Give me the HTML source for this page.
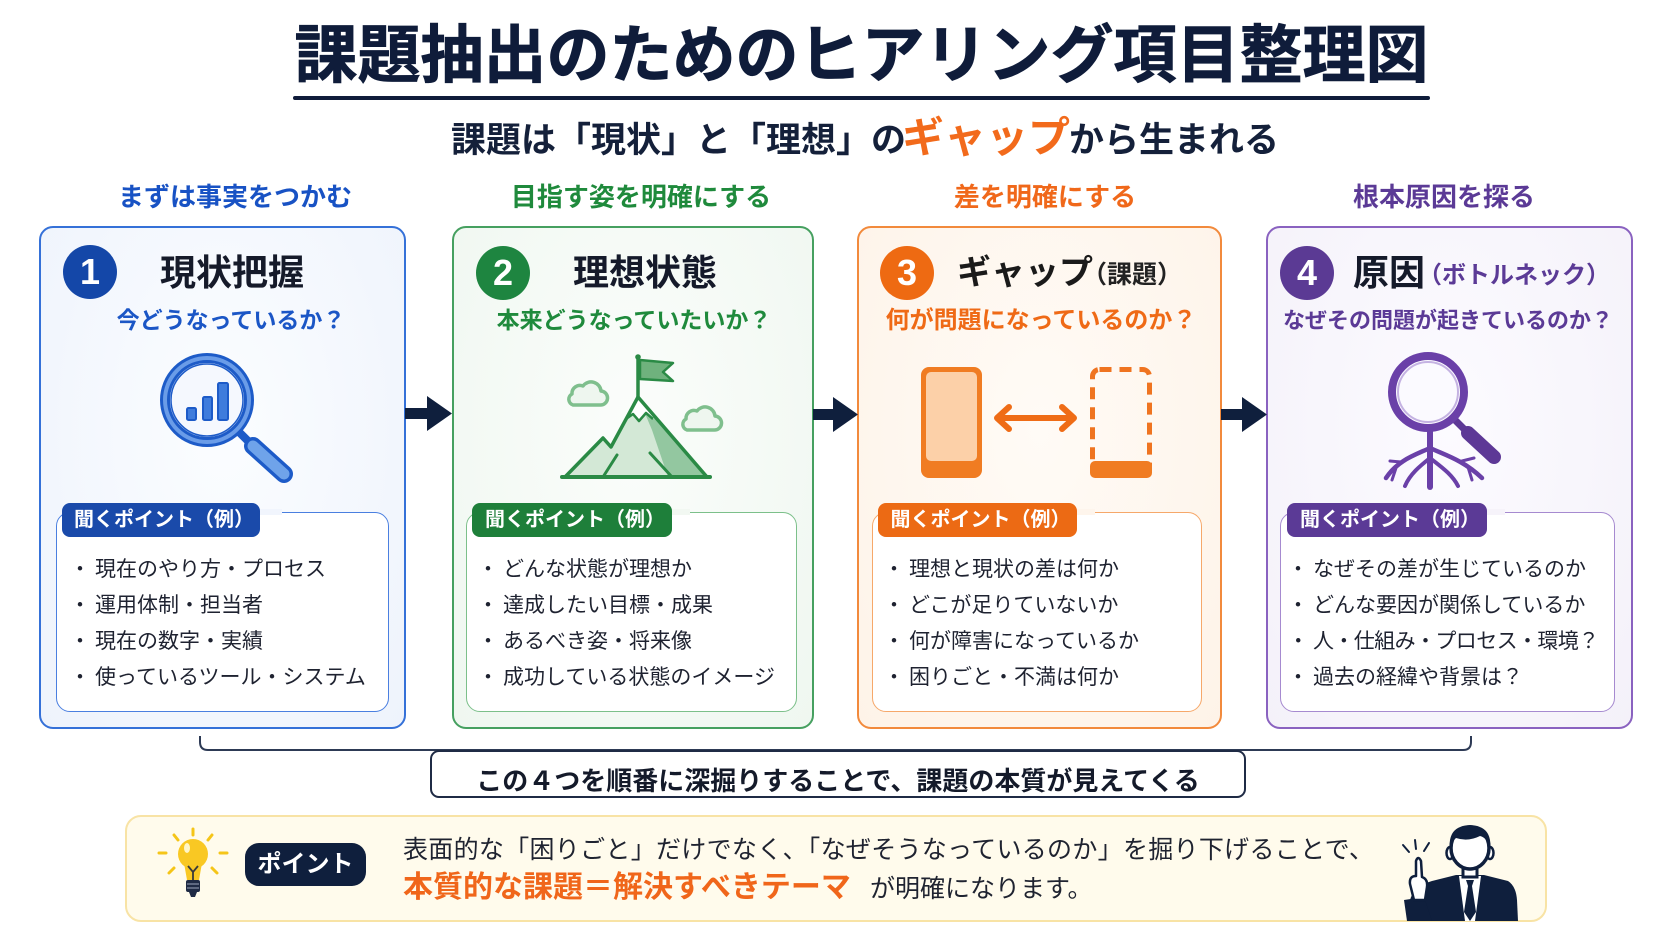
<!DOCTYPE html>
<html><head><meta charset="utf-8">
<style>
*{margin:0;padding:0}
body{width:1672px;height:941px;position:relative;overflow:hidden;background:#fff;font-family:"Liberation Sans","Noto Sans CJK JP",sans-serif}
.a{position:absolute}
.t{position:absolute;white-space:nowrap;line-height:1;font-family:"Liberation Sans","Noto Sans CJK JP",sans-serif}
.card{position:absolute;top:226px;height:503px;border:2px solid;border-radius:14px;box-sizing:border-box}
.box{position:absolute;top:512px;height:200px;background:#fff;border:1.5px solid;border-radius:14px;box-sizing:border-box}
.tab{position:absolute;top:503px;height:34px;border-radius:8px;color:#fff;font-weight:700;font-size:20px;line-height:34px;text-align:center;white-space:nowrap;padding-left:6px;box-sizing:border-box}
.gap{position:absolute;top:509px;height:6px}
.b{display:inline-block;width:30px;text-align:center}
.li{font-size:21px;color:#1e2230}
.h{font-size:26px;font-weight:700;text-align:center;width:400px}
.ct{font-weight:700;color:#151a2a}
.cs{font-weight:700;text-align:center;width:400px}
.num{position:absolute;width:54px;height:54px;border-radius:50%;color:#fff;font-weight:700;font-size:36px;line-height:54px;text-align:center;font-family:"Liberation Sans",sans-serif}
</style></head><body>

<!-- cards -->
<div class="card" style="left:39px;width:367px;border-color:#3571d8;background:radial-gradient(ellipse at 50% 40%,#fbfdff 0%,#eef3fc 100%)"></div>
<div class="card" style="left:452px;width:362px;border-color:#46a060;background:radial-gradient(ellipse at 50% 40%,#fbfdfb 0%,#eff7f0 100%)"></div>
<div class="card" style="left:857px;width:365px;border-color:#f28a3c;background:radial-gradient(ellipse at 50% 40%,#fffbf6 0%,#fef3e8 100%)"></div>
<div class="card" style="left:1266px;width:367px;border-color:#8a62c0;background:radial-gradient(ellipse at 50% 40%,#fcfbff 0%,#f4f1f9 100%)"></div>

<!-- point boxes -->
<div class="box" style="left:56px;width:333px;border-color:#4a7fe0"></div>
<div class="box" style="left:466px;width:331px;border-color:#7cc08a"></div>
<div class="box" style="left:872px;width:330px;border-color:#f6a86a"></div>
<div class="box" style="left:1280px;width:335px;border-color:#a68ad0"></div>
<div class="gap" style="left:260px;width:22px;background:#f1f5fd"></div>
<div class="gap" style="left:672px;width:18px;background:#f2f8f2"></div>
<div class="gap" style="left:1077px;width:18px;background:#fef5ec"></div>
<div class="gap" style="left:1487px;width:18px;background:#f6f3fa"></div>
<div class="tab" style="left:62px;width:198px;background:#1a4aaa">聞くポイント（例）</div>
<div class="tab" style="left:472px;width:200px;background:#1e7f3a">聞くポイント（例）</div>
<div class="tab" style="left:878px;width:199px;background:#ec6a14">聞くポイント（例）</div>
<div class="tab" style="left:1287px;width:200px;background:#5b3a96">聞くポイント（例）</div>

<!-- bottom yellow box -->
<div class="a" style="left:125px;top:815px;width:1422px;height:107px;box-sizing:border-box;border:2px solid #f8e3a5;border-radius:16px;background:#fffbec"></div>

<svg class="a" style="left:0;top:0" width="1672" height="941" viewBox="0 0 1672 941">
<!-- arrows -->
<g fill="#0f1f3d">
 <rect x="405" y="408" width="24" height="11"/>
 <polygon points="427,396 452,413.5 427,431"/>
 <rect x="813" y="409" width="22" height="11"/>
 <polygon points="833,397 858,414.5 833,432"/>
 <rect x="1221" y="409" width="23" height="11"/>
 <polygon points="1242,397 1267,414.5 1242,432"/>
</g>

<!-- magnifier 1 -->
<g>
 <line x1="238" y1="431" x2="251" y2="444" stroke="#1d5bc8" stroke-width="8"/>
 <line x1="253" y1="446" x2="284" y2="474" stroke="#1d5bc8" stroke-width="18" stroke-linecap="round"/>
 <line x1="253" y1="446" x2="284" y2="474" stroke="#6fa3ea" stroke-width="11" stroke-linecap="round"/>
 <circle cx="207" cy="400" r="42" fill="#f5f8fe" stroke="#1d5bc8" stroke-width="10"/>
 <circle cx="207" cy="400" r="42" fill="none" stroke="#6a9ce8" stroke-width="4"/>
 <circle cx="207" cy="400" r="36" fill="none" stroke="#1d5bc8" stroke-width="1.5"/>
 <rect x="187" y="408" width="9" height="12" rx="1.5" fill="#3f7cdc" stroke="#1d5bc8" stroke-width="2"/>
 <rect x="203" y="397" width="9" height="23" rx="1.5" fill="#3f7cdc" stroke="#1d5bc8" stroke-width="2"/>
 <rect x="218" y="383" width="10" height="37" rx="1.5" fill="#3f7cdc" stroke="#1d5bc8" stroke-width="2"/>
</g>

<!-- mountain -->
<g>
 <path d="M573,405 L600,405 A7,7 0 0 0 601,391 A10,10 0 0 0 583,386 A8,8 0 0 0 572,394 A6,6 0 0 0 573,405 Z" fill="#eef6ef" stroke="#7fbf8d" stroke-width="3.5" stroke-linejoin="round"/>
 <path d="M573,405 L600,405 A7,7 0 0 0 601,391 A10,10 0 0 0 583,386 A8,8 0 0 0 572,394 A6,6 0 0 0 573,405 Z" transform="translate(114,25)" fill="#eef6ef" stroke="#7fbf8d" stroke-width="3.5" stroke-linejoin="round"/>
 <path d="M565,477 L603,438 L611,447 L638,397 L707,477 Z" fill="#d3e8d6"/>
 <path d="M638,397 L707,477 L668,477 L652,430 Z" fill="#93c7a0"/>
 <polygon points="638,397 626,419 633,414 639,421 646,413 653,419 656,418" fill="#fff"/>
 <polyline points="626,419 633,414 639,421 646,413 653,419" fill="none" stroke="#2a8a45" stroke-width="2.5" stroke-linejoin="round"/>
 <path d="M565,477 L603,438 L611,447 L638,397 L707,477 Z" fill="none" stroke="#2a8a45" stroke-width="3.5" stroke-linejoin="round"/>
 <line x1="603" y1="477" x2="617" y2="455" stroke="#2a8a45" stroke-width="3" stroke-linecap="round"/>
 <line x1="650" y1="453" x2="672" y2="477" stroke="#2a8a45" stroke-width="3" stroke-linecap="round"/>
 <line x1="562" y1="477" x2="710" y2="477" stroke="#2a8a45" stroke-width="4" stroke-linecap="round"/>
 <line x1="638" y1="399" x2="638" y2="358" stroke="#2a8a45" stroke-width="3.5"/>
 <circle cx="638" cy="357" r="2.8" fill="#2a8a45"/>
 <polygon points="640,360 673,363 663,372 673,381 640,379" fill="#6fb27d" stroke="#2a8a45" stroke-width="2.5" stroke-linejoin="round"/>
</g>

<!-- gap icon -->
<g>
 <rect x="921" y="367" width="61" height="111" rx="8" fill="#f07c22"/>
 <rect x="926" y="372" width="51" height="89" rx="5" fill="#fcd0a8"/>
 <line x1="1000" y1="418" x2="1071" y2="418" stroke="#ef6c16" stroke-width="6" stroke-linecap="round"/>
 <polyline points="1009,407 997,418 1009,429" fill="none" stroke="#ef6c16" stroke-width="6" stroke-linecap="round" stroke-linejoin="round"/>
 <polyline points="1062,407 1074,418 1062,429" fill="none" stroke="#ef6c16" stroke-width="6" stroke-linecap="round" stroke-linejoin="round"/>
 <rect x="1092.5" y="369.5" width="57" height="106" rx="7" fill="none" stroke="#ef7420" stroke-width="5" stroke-dasharray="12 8"/>
 <rect x="1090" y="461" width="62" height="17" rx="5" fill="#f07c22"/>
</g>

<!-- root cause icon -->
<g stroke="#6a40a8" fill="none" stroke-linecap="round">
 <path d="M1430,430 V487" stroke-width="6"/>
 <path d="M1430,448 C1415,455 1398,460 1386,478" stroke-width="4.5"/>
 <path d="M1430,448 C1445,455 1463,460 1482,478" stroke-width="4.5"/>
 <path d="M1430,458 C1420,466 1410,474 1405,486" stroke-width="4"/>
 <path d="M1430,458 C1440,466 1452,474 1458,486" stroke-width="4"/>
 <path d="M1401,462 L1390,461" stroke-width="3"/>
 <path d="M1462,461 L1474,458" stroke-width="3"/>
 <path d="M1396,468 L1392,480" stroke-width="3"/>
 <path d="M1468,467 L1472,480" stroke-width="3"/>
</g>
<line x1="1453" y1="418" x2="1466" y2="431" stroke="#5d3896" stroke-width="7"/>
<line x1="1468" y1="433" x2="1494" y2="457" stroke="#5d3896" stroke-width="14" stroke-linecap="round"/>
<circle cx="1428" cy="392" r="36" fill="#fbfaff" stroke="#6a40a8" stroke-width="8"/>
<circle cx="1428" cy="392" r="30" fill="none" stroke="#c4b2e2" stroke-width="2"/>

<!-- bracket + summary box -->
<path d="M200,736 V742 Q200,750 208,750 H1463 Q1471,750 1471,742 V736" fill="none" stroke="#2d3a55" stroke-width="2"/>
<rect x="431" y="751" width="814" height="46" rx="8" fill="#fff" stroke="#1f2b45" stroke-width="2"/>

<!-- bulb -->
<g stroke="#f5c518" stroke-width="3" stroke-linecap="round">
 <line x1="193" y1="829" x2="193" y2="835"/>
 <line x1="174" y1="835" x2="178" y2="840"/>
 <line x1="212" y1="835" x2="208" y2="840"/>
 <line x1="159" y1="853" x2="166" y2="853"/>
 <line x1="220" y1="853" x2="227" y2="853"/>
 <line x1="169" y1="873" x2="174" y2="868"/>
 <line x1="217" y1="873" x2="212" y2="868"/>
</g>
<circle cx="193" cy="854" r="15" fill="#f9c823"/>
<path d="M184,863 L202,863 L199,880 L187,880 Z" fill="#f9c823"/>
<ellipse cx="187" cy="848" rx="3" ry="5" fill="#fff6c8"/>
<path d="M188,866 L193,872 L198,866 M193,872 V880" fill="none" stroke="#3a3a3a" stroke-width="1.8"/>
<rect x="186" y="880" width="14" height="12" rx="2" fill="#1f2a44"/>
<line x1="187" y1="884" x2="199" y2="884" stroke="#8a93a8" stroke-width="1.2"/>
<line x1="187" y1="888" x2="199" y2="888" stroke="#8a93a8" stroke-width="1.2"/>
<path d="M189,892 L197,892 L195,897 L191,897 Z" fill="#1f2a44"/>
<rect x="245" y="843" width="121" height="43" rx="14" fill="#0f1f3d"/>

<!-- businessman -->
<g>
 <path d="M1408,921 L1410,900 Q1414,886 1432,881 L1456,875 L1484,875 L1508,881 Q1516,886 1517,900 L1518,921 Z" fill="#0f1f3d"/>
 <polygon points="1459,876 1481,876 1475,921 1465,921" fill="#fff"/>
 <polygon points="1466,880 1474,880 1472,886 1476,912 1470,921 1464,912 1468,886" fill="#0f1f3d"/>
 <rect x="1463" y="862" width="14" height="15" fill="#fff" stroke="#0f1f3d" stroke-width="3"/>
 <ellipse cx="1450" cy="853" rx="3.5" ry="6" fill="#fff" stroke="#0f1f3d" stroke-width="2.5"/>
 <ellipse cx="1490" cy="853" rx="3.5" ry="6" fill="#fff" stroke="#0f1f3d" stroke-width="2.5"/>
 <ellipse cx="1470" cy="848" rx="19" ry="21" fill="#fff" stroke="#0f1f3d" stroke-width="3.5"/>
 <path d="M1450,850 Q1447,826 1470,825 Q1493,826 1490,850 Q1488,838 1480,836 Q1468,842 1456,838 Q1451,842 1450,850 Z" fill="#0f1f3d"/>
 <path d="M1407,921 L1404,900 L1424,897 L1432,921 Z" fill="#0f1f3d"/>
 <path d="M1414,900 L1410,884 Q1409,876 1416,876 L1416,861 Q1418,855 1421,861 L1422,877 Q1428,879 1427,887 L1425,900 Z" fill="#fff" stroke="#0f1f3d" stroke-width="2.5" stroke-linejoin="round"/>
 <g stroke="#0f1f3d" stroke-width="2" stroke-linecap="round">
  <line x1="1403" y1="845" x2="1409" y2="852"/>
  <line x1="1415" y1="840" x2="1416" y2="849"/>
  <line x1="1429" y1="843" x2="1424" y2="851"/>
 </g>
</g>
</svg>

<!-- title -->
<div class="t" style="left:293px;width:1137px;top:25px;font-size:63px;font-weight:700;color:#0f1c3a;text-align:center;-webkit-text-stroke:0.8px #0f1c3a">課題抽出のためのヒアリング項目整理図</div>
<div class="a" style="left:293px;top:96px;width:1137px;height:4px;background:#0f1c3a;border-radius:2px"></div>

<!-- subtitle -->
<div class="t" style="left:451px;top:123px;font-size:35px;font-weight:700;color:#14203a">課題は「現状」と「理想」の</div>
<div class="t" style="left:902px;top:117px;font-size:42px;font-weight:700;color:#f26a1b">ギャップ</div>
<div class="t" style="left:1069px;top:123px;font-size:35px;font-weight:700;color:#14203a">から生まれる</div>

<!-- step headings -->
<div class="t h" style="left:35px;top:184px;color:#1852c4">まずは事実をつかむ</div>
<div class="t h" style="left:441px;top:184px;color:#1f8a3c">目指す姿を明確にする</div>
<div class="t h" style="left:845px;top:184px;color:#f0681a">差を明確にする</div>
<div class="t h" style="left:1244px;top:184px;color:#5b3a96">根本原因を探る</div>

<!-- number circles -->
<div class="num" style="left:63px;top:245px;background:#1447a8">1</div>
<div class="num" style="left:476px;top:246px;background:#1e8540">2</div>
<div class="num" style="left:880px;top:246px;background:#ee6a12">3</div>
<div class="num" style="left:1280px;top:246px;background:#5b3a94">4</div>

<!-- card titles -->
<div class="t ct" style="left:160px;top:255px;font-size:36px">現状把握</div>
<div class="t ct" style="left:573px;top:255px;font-size:36px">理想状態</div>
<div class="t ct" style="left:957px;top:256px;font-size:34px;color:#1a1a1a">ギャップ</div>
<div class="t ct" style="left:1082px;top:263px;font-size:25px;color:#222">（課題）</div>
<div class="t ct" style="left:1353px;top:255px;font-size:36px">原因</div>
<div class="t ct" style="left:1418px;top:264px;font-size:24px;color:#5b3a96">（ボトルネック）</div>

<!-- card subtitles -->
<div class="t cs" style="left:31px;top:309px;font-size:23px;color:#1b56c6">今どうなっているか？</div>
<div class="t cs" style="left:434px;top:309px;font-size:23px;color:#1f8a3c">本来どうなっていたいか？</div>
<div class="t cs" style="left:841px;top:309px;font-size:24px;color:#ef6a16">何が問題になっているのか？</div>
<div class="t cs" style="left:1248px;top:310px;font-size:22px;color:#5b3a96">なぜその問題が起きているのか？</div>

<!-- list items -->
<div class="t li" style="left:65px;top:559px"><span class="b">・</span>現在のやり方・プロセス</div>
<div class="t li" style="left:65px;top:595px"><span class="b">・</span>運用体制・担当者</div>
<div class="t li" style="left:65px;top:631px"><span class="b">・</span>現在の数字・実績</div>
<div class="t li" style="left:65px;top:667px"><span class="b">・</span>使っているツール・システム</div>

<div class="t li" style="left:473px;top:559px"><span class="b">・</span>どんな状態が理想か</div>
<div class="t li" style="left:473px;top:595px"><span class="b">・</span>達成したい目標・成果</div>
<div class="t li" style="left:473px;top:631px"><span class="b">・</span>あるべき姿・将来像</div>
<div class="t li" style="left:473px;top:667px"><span class="b">・</span>成功している状態のイメージ</div>

<div class="t li" style="left:879px;top:559px"><span class="b">・</span>理想と現状の差は何か</div>
<div class="t li" style="left:879px;top:595px"><span class="b">・</span>どこが足りていないか</div>
<div class="t li" style="left:879px;top:631px"><span class="b">・</span>何が障害になっているか</div>
<div class="t li" style="left:879px;top:667px"><span class="b">・</span>困りごと・不満は何か</div>

<div class="t li" style="left:1283px;top:559px"><span class="b">・</span>なぜその差が生じているのか</div>
<div class="t li" style="left:1283px;top:595px"><span class="b">・</span>どんな要因が関係しているか</div>
<div class="t li" style="left:1283px;top:631px;letter-spacing:-0.6px"><span class="b">・</span>人・仕組み・プロセス・環境？</div>
<div class="t li" style="left:1283px;top:667px"><span class="b">・</span>過去の経緯や背景は？</div>

<!-- summary text -->
<div class="t" style="left:431px;width:814px;top:768px;font-size:26px;font-weight:700;color:#141a2a;text-align:center">この４つを順番に深掘りすることで、課題の本質が見えてくる</div>

<!-- point box text -->
<div class="t" style="left:245px;width:121px;top:853px;font-size:24px;font-weight:700;color:#fff;text-align:center">ポイント</div>
<div class="t" style="left:403px;top:838px;font-size:25px;color:#1f2330;letter-spacing:0.3px">表面的な「困りごと」だけでなく、「なぜそうなっているのか」を掘り下げることで、</div>
<div class="t" style="left:403px;top:873px;font-size:30px;font-weight:700;color:#f0661a">本質的な課題＝解決すべきテーマ</div>
<div class="t" style="left:870px;top:877px;font-size:25px;color:#1f2330">が明確になります。</div>

</body></html>
